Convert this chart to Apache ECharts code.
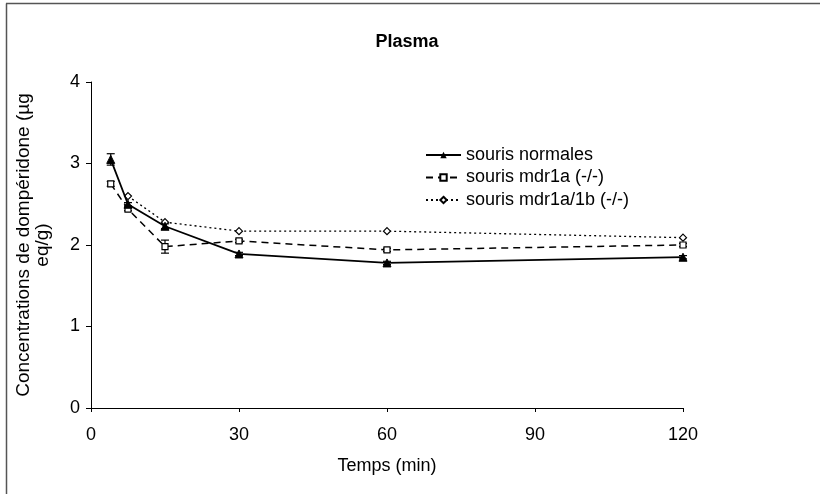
<!DOCTYPE html>
<html><head><meta charset="utf-8">
<script src="https://cdn.jsdelivr.net/npm/echarts@6/dist/echarts.min.js"></script>
<style>html,body{margin:0;padding:0;background:#fff}#c{width:820px;height:494px}</style>
</head><body><div id="c"></div>
<script>
const titleText = 'Plasma';
const xName = 'Temps (min)';
const yName = 'Concentrations de dompéridone (µg\neq/g)';
const seriesNames = ['souris normales', 'souris mdr1a (-/-)', 'souris mdr1a/1b (-/-)'];
const timesNormal = [4, 7.5, 15, 30, 60, 120];
const valuesNormal = [3.05, 2.5, 2.23, 1.89, 1.78, 1.85];
const errNormal = [0.07, 0.02, 0.03, 0.02, 0.02, 0.02];
const timesMdr1a = [4, 7.5, 15, 30, 60, 120];
const valuesMdr1a = [2.75, 2.44, 1.98, 2.05, 1.94, 2.0];
const errMdr1a = [0.03, 0.02, 0.08, 0.02, 0.02, 0.02];
const timesMdr1ab = [7.5, 15, 30, 60, 120];
const valuesMdr1ab = [2.6, 2.28, 2.17, 2.17, 2.09];
const xTicks = [0, 30, 60, 90, 120];
const yTicks = [0, 1, 2, 3, 4];

const chart = echarts.init(document.getElementById('c'), null, {renderer: 'canvas'});
const font = 'Liberation Sans, Arial, sans-serif';

function pairs(t, v) { return t.map((x, i) => [x, v[i]]); }
function errData(t, v, e) { return t.map((x, i) => [x, v[i] - e[i], v[i] + e[i]]); }
function errSeries(data) {
  return {
    type: 'custom', silent: true, z: 1, legendHoverLink: false,
    renderItem: function (params, api) {
      const x = api.value(0);
      const lo = api.coord([x, api.value(1)]);
      const hi = api.coord([x, api.value(2)]);
      const w = 4;
      const st = {stroke: '#000', lineWidth: 1.2};
      return {type: 'group', children: [
        {type: 'line', shape: {x1: lo[0], y1: lo[1], x2: hi[0], y2: hi[1]}, style: st},
        {type: 'line', shape: {x1: lo[0]-w, y1: lo[1], x2: lo[0]+w, y2: lo[1]}, style: st},
        {type: 'line', shape: {x1: hi[0]-w, y1: hi[1], x2: hi[0]+w, y2: hi[1]}, style: st}
      ]};
    },
    data: data
  };
}

chart.setOption({
  animation: false,
  backgroundColor: '#fff',
  title: {text: titleText, left: 402, top: 28, textAlign: 'center',
    textStyle: {fontFamily: font, fontSize: 18, fontWeight: 'bold', color: '#000'}},
  legend: {
    orient: 'vertical', left: 425, top: 146, padding: 0, itemGap: 4.5, itemWidth: 35, itemHeight: 8,
    data: seriesNames,
    textStyle: {fontFamily: font, fontSize: 18, color: '#000'}
  },
  graphic: [
    {type: 'line', shape: {x1: 6.5, y1: 3.5, x2: 6.5, y2: 494}, style: {stroke: '#555', lineWidth: 1.5}},
    {type: 'line', shape: {x1: 6, y1: 3.5, x2: 820, y2: 3.5}, style: {stroke: '#555', lineWidth: 1.5}}
  ],
  grid: {left: 91, right: 137, top: 82, bottom: 86},
  xAxis: {
    type: 'value', min: 0, max: 120, interval: 30,
    name: xName, nameLocation: 'middle', nameGap: 49,
    nameTextStyle: {fontFamily: font, fontSize: 18, color: '#000'},
    axisLine: {lineStyle: {color: '#000', width: 1}},
    axisTick: {show: true, length: 4, lineStyle: {color: '#000'}},
    axisLabel: {fontFamily: font, fontSize: 18, color: '#000', margin: 18,
      formatter: v => xTicks.includes(v) ? String(v) : ''},
    splitLine: {show: false}
  },
  yAxis: {
    type: 'value', min: 0, max: 4, interval: 1,
    name: yName, nameLocation: 'middle', nameGap: 39, nameRotate: 90,
    nameTextStyle: {fontFamily: font, fontSize: 19, color: '#000', lineHeight: 19},
    axisLine: {show: true, lineStyle: {color: '#000', width: 1}},
    axisTick: {show: true, length: 5, lineStyle: {color: '#000'}},
    axisLabel: {fontFamily: font, fontSize: 18, color: '#000', margin: 11,
      formatter: v => yTicks.includes(v) ? String(v) : ''},
    splitLine: {show: false}
  },
  series: [
    {name: seriesNames[0], type: 'line', data: pairs(timesNormal, valuesNormal),
      symbol: 'triangle', symbolSize: 8, z: 4,
      lineStyle: {color: '#000', width: 1.8, type: 'solid'},
      itemStyle: {color: '#000', borderColor: '#000'}},
    {name: seriesNames[1], type: 'line', data: pairs(timesMdr1a, valuesMdr1a),
      symbol: 'rect', symbolSize: 6, z: 3,
      lineStyle: {color: '#000', width: 1.5, type: [7, 5]},
      itemStyle: {color: '#fff', borderColor: '#000', borderWidth: 1.2}},
    {name: seriesNames[2], type: 'line', data: pairs(timesMdr1ab, valuesMdr1ab),
      symbol: 'diamond', symbolSize: 7, z: 3,
      lineStyle: {color: '#000', width: 1.3, type: [2, 3]},
      itemStyle: {color: '#fff', borderColor: '#000', borderWidth: 1.2}},
    errSeries(errData(timesNormal, valuesNormal, errNormal)),
    errSeries(errData(timesMdr1a, valuesMdr1a, errMdr1a))
  ]
});
</script></body></html>
